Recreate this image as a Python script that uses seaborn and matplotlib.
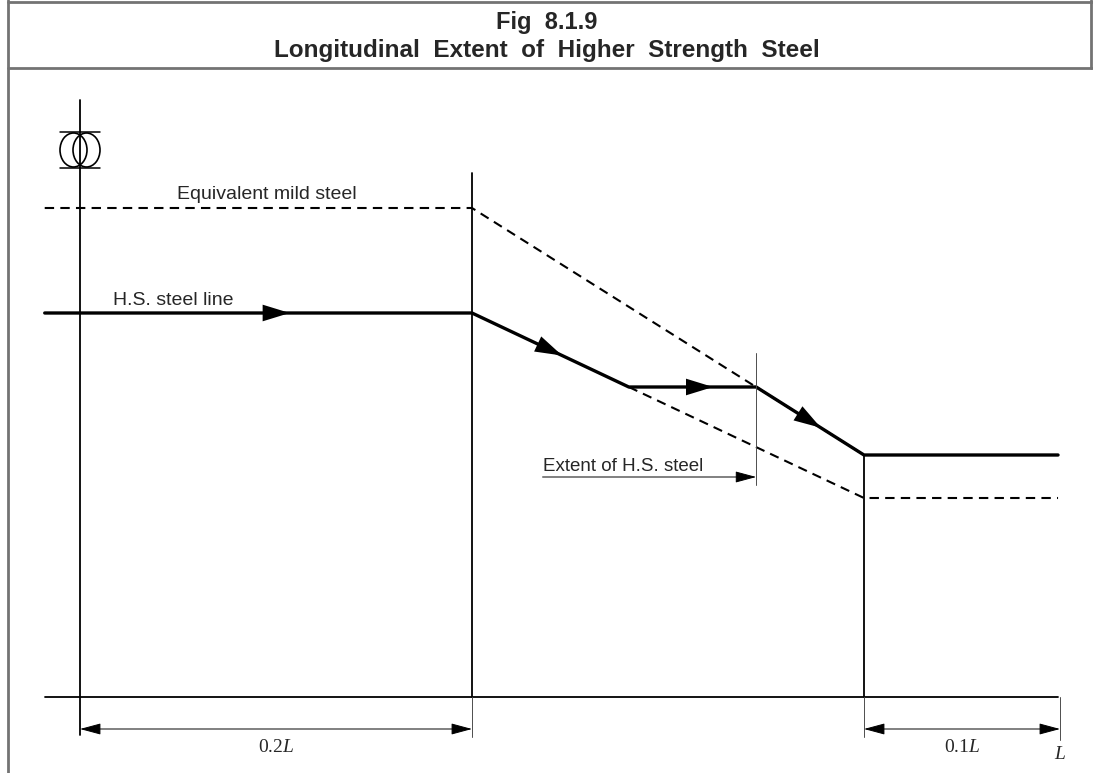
import matplotlib
matplotlib.use("Agg")
import matplotlib.pyplot as plt
import numpy as np
import pandas as pd
import seaborn as sns
from matplotlib.patches import Ellipse

# x in fractions of L measured from amidships, y in stress units (drawing scale)
hs_x = [-0.018, 0.2, 0.28, 0.345, 0.4, 0.499]
hs_y = [384, 384, 310, 310, 242, 242]

mild_x = [-0.018, 0.2, 0.4]
mild_y = [489, 489, 242]

lower_x = [0.28, 0.4, 0.499]
lower_y = [310, 199, 199]

arrow_pos = [0.107, 0.246, 0.323, 0.378]   # where arrow heads sit on the H.S. line
extent_end = 0.345
extent_start = 0.236

dim_labels = ["0.2$L$", "0.1$L$"]
dim_spans = [(0.0, 0.2), (0.4, 0.5)]

sns.set_theme(style="white")
plt.rcParams["font.family"] = ["Liberation Sans", "DejaVu Sans"]
plt.rcParams["mathtext.fontset"] = "custom"
plt.rcParams["mathtext.rm"] = "Liberation Serif"
plt.rcParams["mathtext.it"] = "Liberation Serif:italic"

fig = plt.figure(figsize=(10.93, 7.73), dpi=100)
ax = fig.add_axes([0, 0, 1, 1])
# one pixel per unit vertically, 1960 px per L horizontally
ax.set_xlim(-80 / 1960, 1013 / 1960)
ax.set_ylim(-76, 697)
ax.axis("off")

k = "black"
dash = (0, (4.5, 3))

df_hs = pd.DataFrame({"x": hs_x, "y": hs_y})
sns.lineplot(data=df_hs, x="x", y="y", sort=False, estimator=None, color=k, lw=2.4, ax=ax)
df_mild = pd.DataFrame({"x": mild_x, "y": mild_y})
sns.lineplot(data=df_mild, x="x", y="y", sort=False, estimator=None, color=k, lw=1.5,
             ax=ax, linestyle=dash)
df_low = pd.DataFrame({"x": lower_x, "y": lower_y})
sns.lineplot(data=df_low, x="x", y="y", sort=False, estimator=None, color=k, lw=1.5,
             ax=ax, linestyle=dash)

# arrow heads along the H.S. line
for xa in arrow_pos:
    ya = np.interp(xa, hs_x, hs_y)
    xb = xa - 0.002
    yb = np.interp(xb, hs_x, hs_y)
    ax.annotate("", xy=(xa, ya), xytext=(xb, yb),
                arrowprops=dict(arrowstyle="-|>,head_length=1.3,head_width=0.4",
                                color=k, lw=0, mutation_scale=15, shrinkA=0, shrinkB=0))

# axes of the sketch
ax.plot([-0.018, 0.499], [0, 0], color=k, lw=1.3)
ax.plot([0, 0], [-38, 597], color=k, lw=1.3)
ax.plot([0.2, 0.2], [0, 524], color=k, lw=1.3)
ax.plot([0.4, 0.4], [0, 242], color=k, lw=1.3)
ax.plot([0.2, 0.2], [-40, 0], color="0.3", lw=0.7)
ax.plot([0.4, 0.4], [-40, 0], color="0.3", lw=0.7)
ax.plot([0.5, 0.5], [-43, 0], color="0.3", lw=0.7)

# extent of H.S. steel
ax.plot([extent_end, extent_end], [212, 344], color="0.3", lw=0.7)
ax.annotate("", xy=(extent_end, 220), xytext=(extent_start, 220),
            arrowprops=dict(arrowstyle="-|>,head_length=1.3,head_width=0.35", color=k,
                            lw=0.7, mutation_scale=10, shrinkA=0, shrinkB=0))
ax.text(extent_start, 226, "Extent of H.S. steel", fontsize=13.5, ha="left", va="baseline")

# dimension lines
for (x0, x1), lab in zip(dim_spans, dim_labels):
    ax.annotate("", xy=(x1, -32), xytext=(x0, -32),
                arrowprops=dict(arrowstyle="<|-|>,head_length=1.3,head_width=0.35", color=k,
                                lw=0.7, mutation_scale=10, shrinkA=0, shrinkB=0))
    ax.text((x0 + x1) / 2, -55, lab, fontsize=14, ha="center", va="baseline",
            family="Liberation Serif")
ax.text(0.5, -62, "$L$", fontsize=14, ha="center", va="baseline")

ax.text(0.0495, 498, "Equivalent mild steel", fontsize=14, ha="left", va="baseline")
ax.text(0.0168, 392, "H.S. steel line", fontsize=14, ha="left", va="baseline")

# amidships symbol
for dx in (-6.5, 6.5):
    ax.add_patch(Ellipse((dx / 1960, 547), 27 / 1960, 34, fill=False, ec=k, lw=1.2))
ax.plot([-20 / 1960, 20 / 1960], [565, 565], color=k, lw=1.1)
ax.plot([-20 / 1960, 20 / 1960], [529, 529], color=k, lw=1.1)

# frame and title box
fig.add_artist(plt.Line2D([8 / 1093, 8 / 1093], [0, 1], color="0.45", lw=2))
fig.add_artist(plt.Line2D([8 / 1093, 1], [1 - 68 / 773, 1 - 68 / 773], color="0.45", lw=2))
fig.add_artist(plt.Line2D([8 / 1093, 1], [1 - 2 / 773, 1 - 2 / 773], color="0.45", lw=2))
fig.add_artist(plt.Line2D([1091 / 1093, 1091 / 1093], [1 - 68 / 773, 1], color="0.45", lw=2))
fig.text(0.5, 1 - 22 / 773, "Fig  8.1.9", fontsize=17, fontweight="bold", ha="center",
         va="center", family=["Liberation Sans Narrow", "Liberation Sans"])
fig.text(0.5, 1 - 50 / 773, "Longitudinal  Extent  of  Higher  Strength  Steel", fontsize=17.5,
         fontweight="bold", ha="center", va="center",
         family=["Liberation Sans Narrow", "Liberation Sans"])

fig.savefig("out.png", dpi=100)
